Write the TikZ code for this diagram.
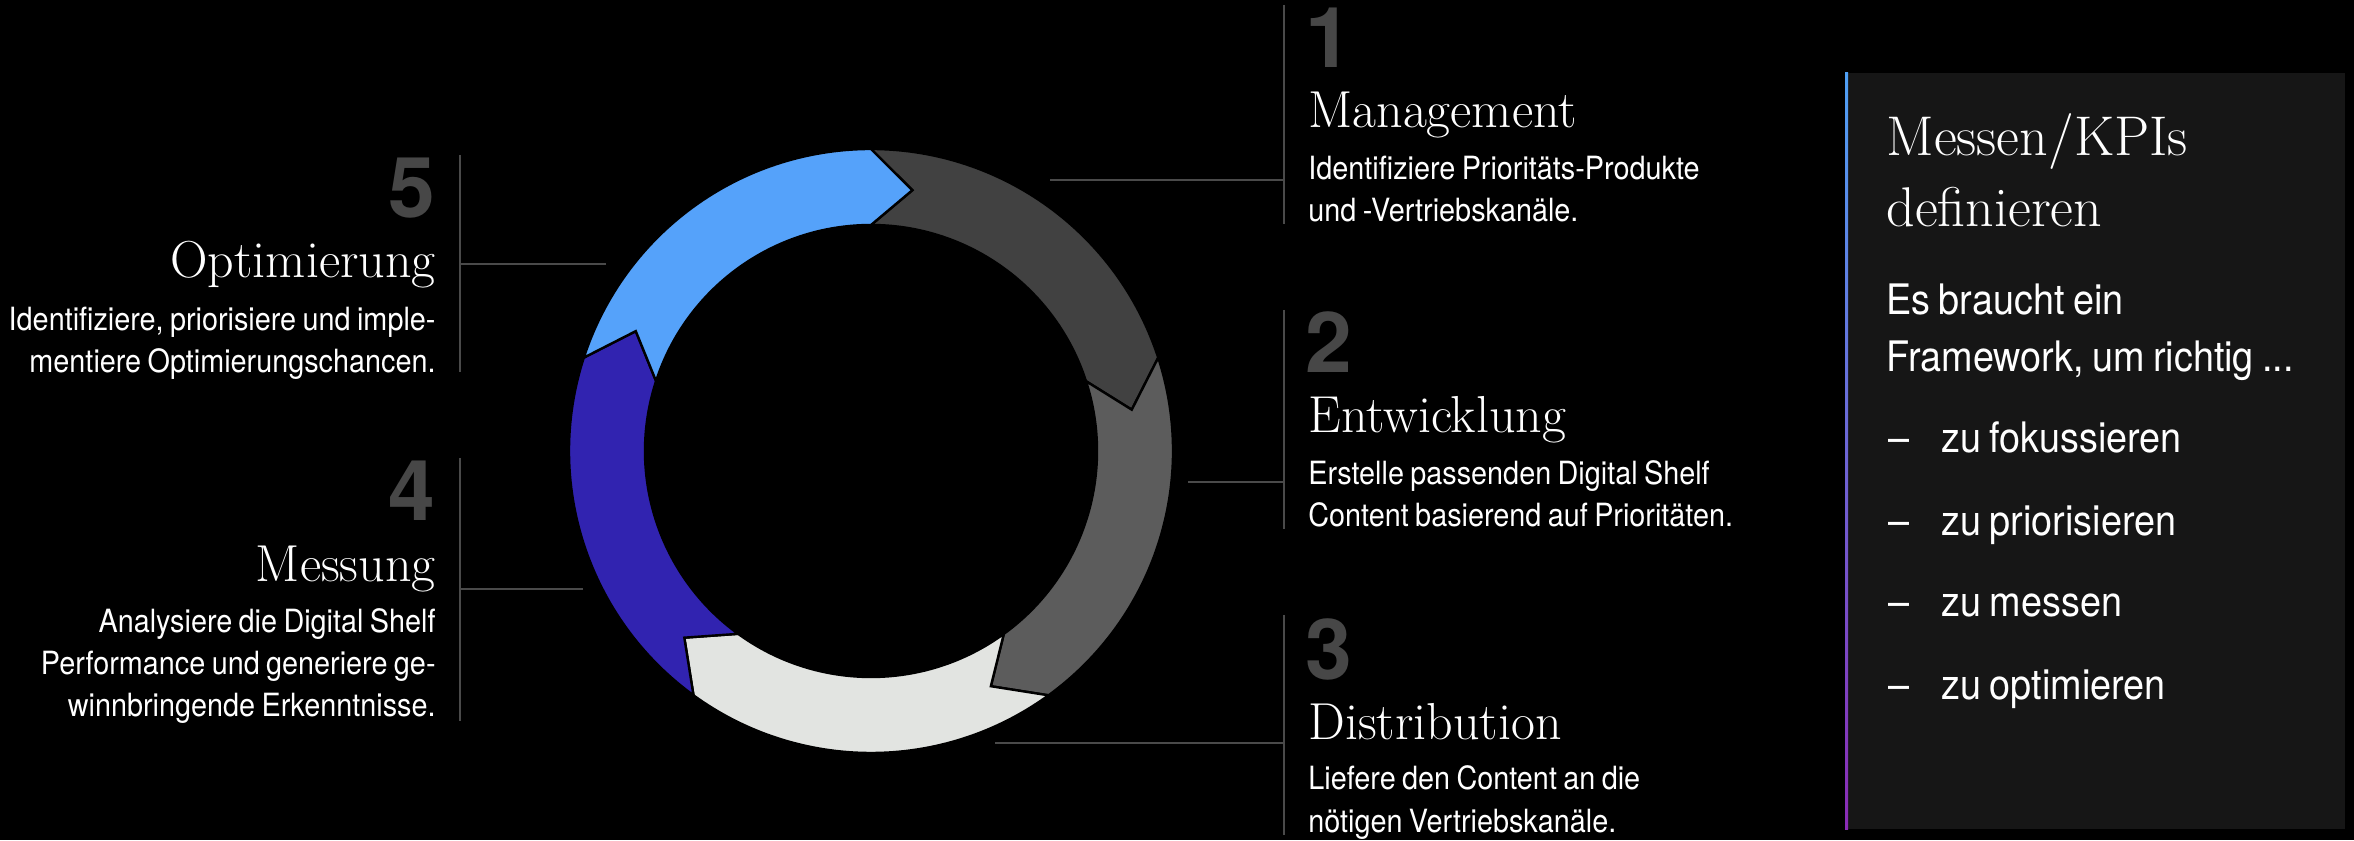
\documentclass[tikz,border=0pt]{standalone}
\usepackage{fontspec}
\usetikzlibrary{positioning,calc}
\newfontfamily\descfont[FakeStretch=0.9,WordSpace=0.8]{TeX Gyre Heros}
\newfontfamily\numfont{TeX Gyre Heros}
\definecolor{numgray}{HTML}{474747}
\definecolor{leadgray}{HTML}{4A4A4A}
\definecolor{segdark}{HTML}{414141}
\definecolor{segmid}{HTML}{5C5C5C}
\definecolor{seglight}{HTML}{E2E4E1}
\definecolor{segindigo}{HTML}{3123B0}
\definecolor{segsky}{HTML}{55A2FA}
\definecolor{panelgray}{HTML}{161616}
\definecolor{barblue}{HTML}{4FA0F5}
\definecolor{barindigo}{HTML}{3A2FC2}
\definecolor{barpurple}{HTML}{8A2BB5}

\begin{document}
\begin{tikzpicture}[x=0.5pt, y=0.5pt,
    stepnum/.style = {font=\numfont\bfseries\fontsize{42}{42}\selectfont, text=numgray, inner sep=0pt},
    steptitle/.style = {font=\fontsize{26}{30}\selectfont, text=white, inner sep=0pt},
    stepdesc/.style = {font=\descfont\fontsize{16}{21}\selectfont, text=white, inner sep=0pt},
    paneltitle/.style = {font=\fontsize{28}{35.5}\selectfont, text=white, inner sep=0pt},
    paneltext/.style = {font=\descfont\fontsize{21}{28.5}\selectfont, text=white, inner sep=0pt},
    leader/.style = {draw=leadgray, line width=0.75pt},
    ringseg/.style = {draw=black, line width=1.2pt, line join=miter}]
  \useasboundingbox (0,0) rectangle (2354,840);
  \fill[black] (0,0) rectangle (2354,840);

  % ring of five arrows, clockwise
  \begin{scope}[shift={(871,389)}]
    \foreach \a/\col in {90/segdark, 18/segmid, -54/seglight, -126/segindigo, 162/segsky}
      \filldraw[ringseg, fill=\col] (\a:302) arc[start angle=\a, end angle=\a-72, radius=302]
        -- (\a-81:264) -- (\a-72:226) arc[start angle=\a-72, end angle=\a, radius=226]
        -- (\a-9:264) -- cycle;
  \end{scope}

  % right column (base of a two line text = its last line)
  \node[stepnum, anchor=base west] (n1) at (1305,772) {1};
  \node[steptitle, anchor=base west] (t1) at (1308,712) {Management};
  \node[stepdesc, anchor=base west, align=left] (d1) at (1308,618) {Identifiziere Prioritäts-Produkte\\und -Vertriebskanäle.};

  \node[stepnum, anchor=base west] (n2) at (1305,467) {2};
  \node[steptitle, anchor=base west] (t2) at (1308,407) {Entwicklung};
  \node[stepdesc, anchor=base west, align=left] (d2) at (1308,313) {Erstelle passenden Digital Shelf\\Content basierend auf Prioritäten.};

  \node[stepnum, anchor=base west] (n3) at (1305,160) {3};
  \node[steptitle, anchor=base west] (t3) at (1308,100) {Distribution};
  \node[stepdesc, anchor=base west, align=left] (d3) at (1308,8) {Liefere den Content an die\\nötigen Vertriebskanäle.};

  % left column
  \node[stepnum, anchor=base east] (n5) at (436,622) {5};
  \node[steptitle, anchor=base east] (t5) at (436,562) {Optimierung};
  \node[stepdesc, anchor=base east, align=right] (d5) at (436,467) {Identifiziere, priorisiere und imple-\\mentiere Optimierungschancen.};

  \node[stepnum, anchor=base east] (n4) at (436,319) {4};
  \node[steptitle, anchor=base east] (t4) at (436,258) {Messung};
  \node[stepdesc, anchor=base east, align=right] (d4) at (436,123) {Analysiere die Digital Shelf\\Performance und generiere ge-\\winnbringende Erkenntnisse.};

  % leader lines
  \coordinate (v1a) at (1284,835); \coordinate (v1b) at (1284,616);
  \coordinate (h1) at (1050,660);
  \coordinate (v2a) at (1284,530); \coordinate (v2b) at (1284,311);
  \coordinate (h2) at (1188,358);
  \coordinate (v3a) at (1284,225); \coordinate (v3b) at (1284,5);
  \coordinate (h3) at (995,97);
  \coordinate (v5a) at (460,685); \coordinate (v5b) at (460,468);
  \coordinate (h5) at (606,576);
  \coordinate (v4a) at (460,382); \coordinate (v4b) at (460,119);
  \coordinate (h4) at (583,251);
  \draw[leader] (v1a) -- (v1b);
  \draw[leader] (h1) -- (h1 -| v1a);
  \draw[leader] (v2a) -- (v2b);
  \draw[leader] (h2) -- (h2 -| v2a);
  \draw[leader] (v3a) -- (v3b);
  \draw[leader] (h3) -- (h3 -| v3a);
  \draw[leader] (v5a) -- (v5b);
  \draw[leader] (h5) -- (h5 -| v5a);
  \draw[leader] (v4a) -- (v4b);
  \draw[leader] (h4) -- (h4 -| v4a);

  % KPI panel
  \fill[panelgray] (1845,11) rectangle (2345,767);
  \shade[top color=barblue, middle color=barindigo, bottom color=barpurple] (1845,11) rectangle (1848,767);
  \node[paneltitle, anchor=base west, align=left] (kpi) at (1886,613) {Messen/KPIs\\definieren};
  \node[paneltext, anchor=base west, align=left] (intro) at (1886,468) {Es braucht ein\\Framework, um richtig ...};
  \node[paneltext, anchor=base west] (m1) at (1888,387) {–};
  \node[paneltext, anchor=base west] (b1) at (1941,387) {zu fokussieren};
  \node[paneltext, anchor=base west] (m2) at (1888,304) {–};
  \node[paneltext, anchor=base west] (b2) at (1941,304) {zu priorisieren};
  \node[paneltext, anchor=base west] (m3) at (1888,223) {–};
  \node[paneltext, anchor=base west] (b3) at (1941,223) {zu messen};
  \node[paneltext, anchor=base west] (m4) at (1888,140) {–};
  \node[paneltext, anchor=base west] (b4) at (1941,140) {zu optimieren};
\end{tikzpicture}
\end{document}
